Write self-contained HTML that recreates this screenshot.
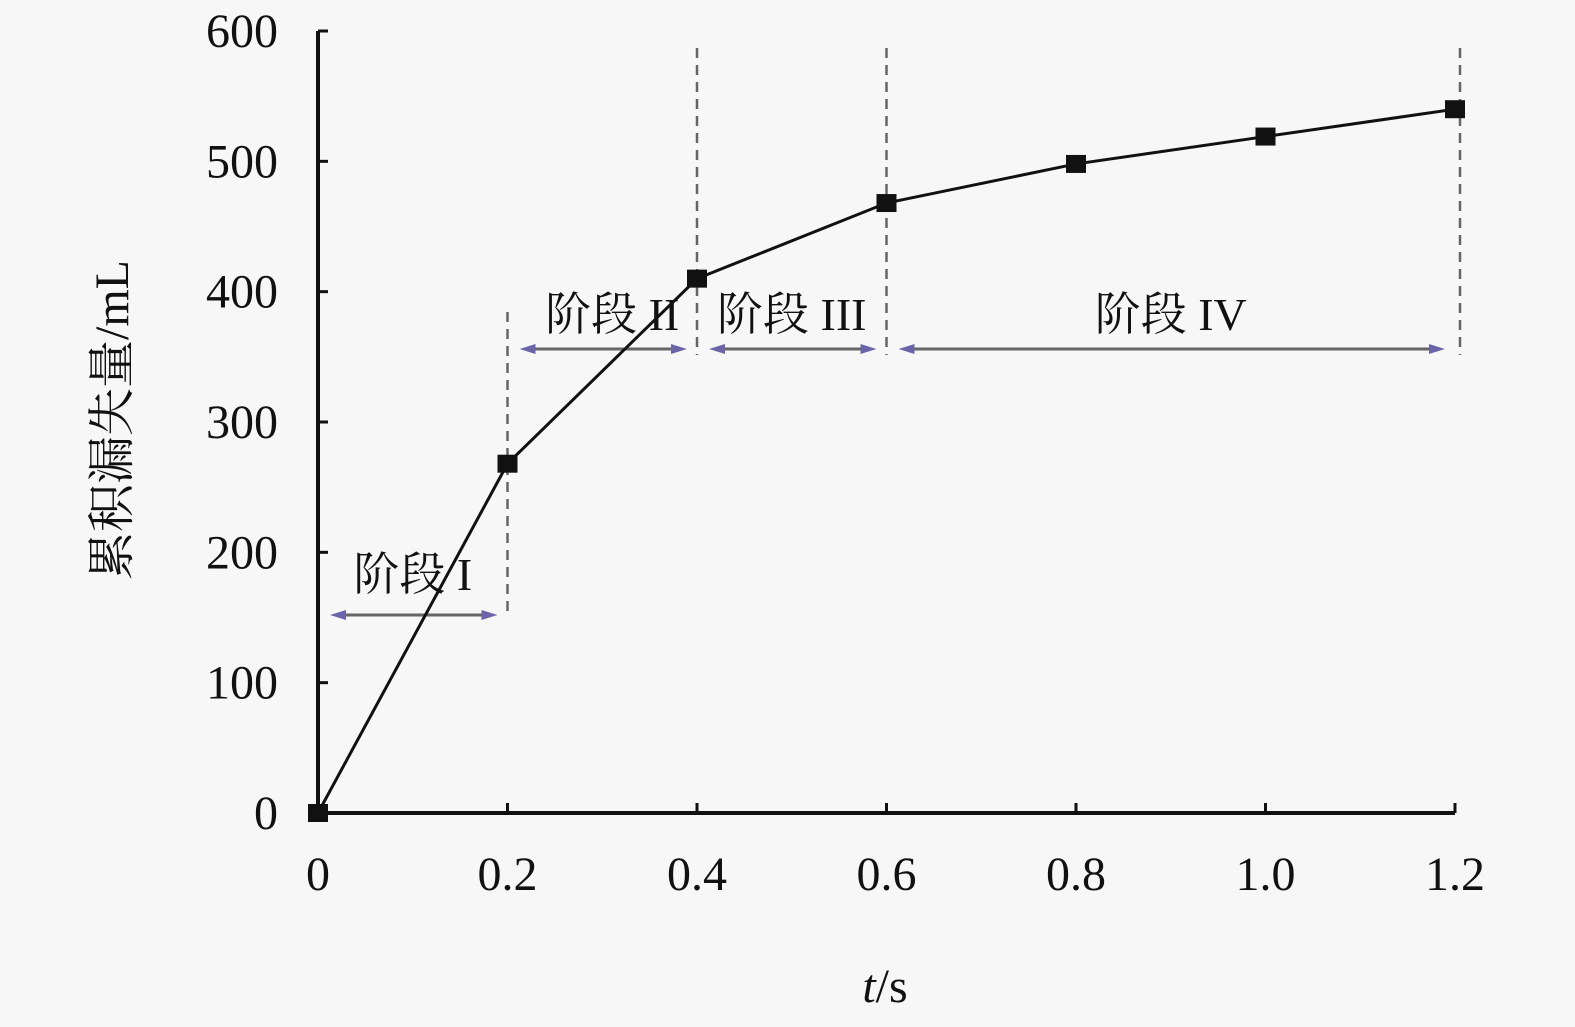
<!DOCTYPE html>
<html><head><meta charset="utf-8"><style>
body{margin:0;background:#f7f7f7;}
svg{display:block;font-family:"Liberation Serif","Noto Serif CJK SC",serif;}
</style></head><body>
<svg id="chart" width="1575" height="1027" viewBox="0 0 1575 1027">
<rect width="1575" height="1027" fill="#f7f7f7"/>
<g id="g"></g>
</svg>
<script>
const times=[0,0.2,0.4,0.6,0.8,1.0,1.2];
const leakage=[0,268,410,468,498,519,540];
const xTicks=[0,0.2,0.4,0.6,0.8,1.0,1.2];
const xTickLabels=["0","0.2","0.4","0.6","0.8","1.0","1.2"];
const yTicks=[0,100,200,300,400,500,600];
const stageNames=["阶段 I","阶段 II","阶段 III","阶段 IV"];
const stageStart=[0,0.2,0.4,0.6];
const stageEnd=[0.2,0.4,0.6,1.2];

const X0=318,X1=1455,Y0=813,Y1=31;
const xs=v=>X0+(v/1.2)*(X1-X0);
const ys=v=>Y0-(v/600)*(Y0-Y1);
const NS="http://www.w3.org/2000/svg";
const g=document.getElementById('g');
function el(t,a,txt){const e=document.createElementNS(NS,t);for(const k in a)e.setAttribute(k,a[k]);if(txt!==undefined)e.textContent=txt;g.appendChild(e);return e;}

// axes
let e=el('line',{x1:X0,y1:Y0,x2:X1,y2:Y0,stroke:'#111','stroke-width':4});

e=el('line',{x1:X0,y1:Y0,x2:X0,y2:Y1,stroke:'#111','stroke-width':4});


xTicks.forEach((v,i)=>{
  let t=el('line',{x1:xs(v),y1:Y0,x2:xs(v),y2:Y0-10,stroke:'#111','stroke-width':3});
  
  t=el('text',{x:xs(v),y:890,'font-size':48,'text-anchor':'middle',fill:'#111'},xTickLabels[i]);
  
});
yTicks.forEach(v=>{
  let t=el('line',{x1:X0,y1:ys(v),x2:X0+10,y2:ys(v),stroke:'#111','stroke-width':3});
  
  t=el('text',{x:278,y:ys(v)+16,'font-size':48,'text-anchor':'end',fill:'#111'},String(v));
  
});

// dashed stage boundaries
const dashTop=[312,48,48,48];
const boundaries=[0.2,0.4,0.6,1.2];
boundaries.forEach((b,i)=>{
  const x=xs(b)+(i===3?5:0);
  let d=el('line',{x1:x,y1:dashTop[i],x2:x,y2:i===0?615:355,stroke:'#666','stroke-width':2.5,'stroke-dasharray':'10,7'});
  
});

// stage arrows
const arrowY=[615,349,349,349];
const labelY=[590,330,330,330];
stageNames.forEach((n,i)=>{
  const a=xs(stageStart[i])+12, b=xs(stageEnd[i])-10+(i===3?0:0), y=arrowY[i];
  let l=el('line',{x1:a+10,y1:y,x2:b-10,y2:y,stroke:'#666','stroke-width':3});
  
  let p=el('polygon',{points:`${a},${y} ${a+16},${y-5} ${a+16},${y+5}`,fill:'#6b64a8'});
  
  p=el('polygon',{points:`${b},${y} ${b-16},${y-5} ${b-16},${y+5}`,fill:'#6b64a8'});
  
  const cx=(xs(stageStart[i])+xs(stageEnd[i]))/2+(i===0?0:0);
  let t=el('text',{x:cx+(i===1?10:0),y:labelY[i],'font-size':46,'text-anchor':'middle',fill:'#111'},n);
  
});

// series
const pts=times.map((t,i)=>xs(t)+','+ys(leakage[i])).join(' ');
let s=el('polyline',{points:pts,fill:'none',stroke:'#111','stroke-width':3});

times.forEach((t,i)=>{
  let m=el('rect',{x:xs(t)-10,y:ys(leakage[i])-9,width:20,height:18,fill:'#111'});
  
});

// axis titles
let tt=el('text',{x:885,y:1002,'font-size':48,'text-anchor':'middle',fill:'#111'});

tt.innerHTML='<tspan font-style="italic">t</tspan>/s';
tt=el('text',{x:0,y:0,'font-size':48,'text-anchor':'middle',fill:'#111',transform:'translate(128,420) rotate(-90)'},'累积漏失量/mL');

</script>
</body></html>
